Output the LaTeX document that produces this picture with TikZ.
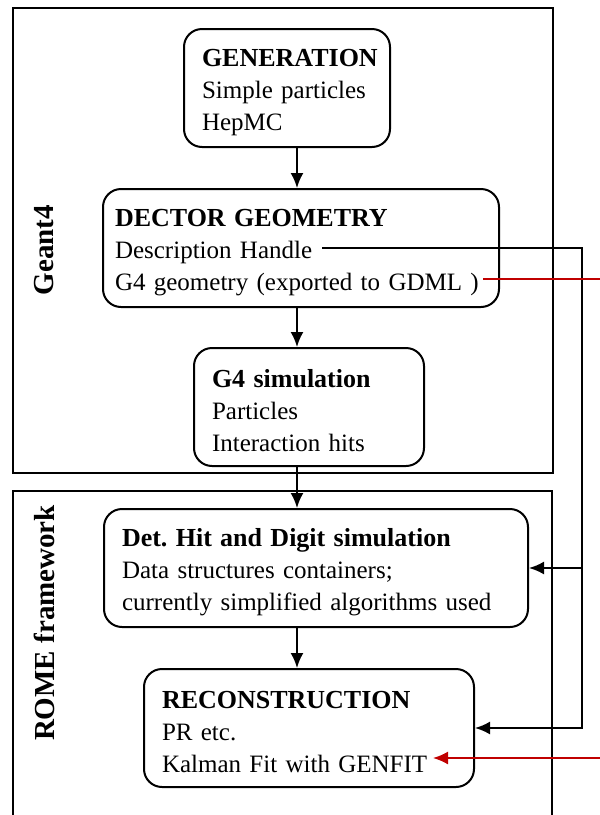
\documentclass[tikz,border=0pt]{standalone}
\usepackage{fontspec}
\setmainfont{Liberation Serif}
\usetikzlibrary{arrows.meta}
\definecolor{linkred}{RGB}{192,0,0}
\newcommand{\stagehead}[1]{{\fontsize{13}{16}\selectfont\bfseries\rule{0pt}{13pt}#1}}

\begin{document}
\begin{tikzpicture}[x=0.5pt,y=-0.5pt,>={Latex[length=7.5pt,width=6.5pt]},
  stage/.style={draw,line width=1pt,rounded corners=9pt,anchor=north west,
    align=left,inner xsep=9pt,minimum height=59pt,
    font=\fontsize{12.5}{16}\selectfont},
  frame/.style={draw,line width=0.8pt},
  flow/.style={line width=1pt,->},
  link/.style={line width=0.9pt,color=linkred},
  side/.style={font=\fontsize{14.5}{17}\selectfont\bfseries,rotate=90}]
  % Page
  \useasboundingbox (0,0) rectangle (600,815);
  %
  % Frames
  \draw[frame] (13,8) rectangle (553,473);
  \draw[frame] (13,815) -- (13,491) -- (552,491) -- (552,815);
  \node[side] (geant) at (44,250) {Geant4};
  \node[side] (rome) at (44,623) {ROME framework};
  %
  % Stages
  \node[stage,text width=85pt] (gen) at (183,28)
    {\stagehead{GENERATION}\\Simple particles\\HepMC};
  \node[stage,text width=186pt,inner xsep=6pt] (geom) at (102,188)
    {\stagehead{DECTOR GEOMETRY}\\Description Handle\\G4 geometry (exported to GDML\ )};
  \node[stage,text width=97pt] (sim) at (193,347)
    {\stagehead{G4 simulation}\\Particles\\Interaction hits};
  \node[stage,text width=194pt] (digi) at (103,508)
    {\stagehead{Det.\ Hit and Digit simulation}\\Data structures containers;\\currently simplified algorithms used};
  \node[stage,text width=147pt] (reco) at (143,668)
    {\stagehead{RECONSTRUCTION}\\PR etc.\\Kalman Fit with GENFIT};
  %
  % Main chain
  \coordinate (spine) at (297,0);
  \draw[flow] (gen.south -| spine) -- (geom.north -| spine);
  \draw[flow] (geom.south -| spine) -- (sim.north -| spine);
  \draw[flow] (sim.south -| spine) -- (digi.north -| spine);
  \draw[flow] (digi.south -| spine) -- (reco.north -| spine);
  %
  % Description handle feed
  \coordinate (handle) at (322,248);
  \coordinate (bus) at (582,248);
  \draw[flow] (handle) -- (bus) |- (reco.east);
  \draw[flow] (bus |- digi.east) -- (digi.east);
  %
  % GDML export
  \coordinate (gdml) at (483,279);
  \coordinate (gdmlout) at (600,279);
  \draw[link] (gdml) -- (gdmlout);
  \coordinate (genfitin) at (600,758);
  \coordinate (genfit) at (433,758);
  \draw[link,->] (genfitin) -- (genfit);
  %
\end{tikzpicture}
\end{document}
